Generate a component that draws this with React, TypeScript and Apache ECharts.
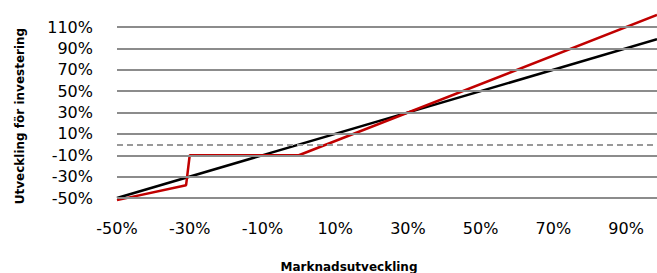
import React, { useEffect, useRef } from "react";
import * as echarts from "echarts";

const xTicks = [-50, -30, -10, 10, 30, 50, 70, 90];
const yTicks = [-50, -30, -10, 10, 30, 50, 70, 90, 110];
const marketLine: [number, number][] = [
  [-50, -50],
  [98.5, 98.5],
];
const investLine: [number, number][] = [
  [-50, -52],
  [-31, -38],
  [-30, -10],
  [0, -10],
  [98.5, 121.3],
];
const zeroLine = 0;
const xTitle = "Marknadsutveckling";
const yTitle = "Utveckling för investering";

export default function App() {
  const ref = useRef<HTMLDivElement>(null);
  useEffect(() => {
    if (!ref.current) return;
    const chart = echarts.init(ref.current, undefined, { renderer: "svg" });
    const font = "DejaVu Sans";
    chart.setOption({
      animation: false,
      grid: { left: 117, right: 0, top: 11, bottom: 75, containLabel: false },
      xAxis: {
        type: "value",
        min: -50,
        max: 98.5,
        interval: 20,
        axisLine: { show: false },
        axisTick: { show: false },
        splitLine: { show: false },
        axisLabel: {
          showMaxLabel: false,
          margin: 22,
          color: "#000",
          fontFamily: font,
          fontSize: 16,
          formatter: (v: number) => (xTicks.includes(v) ? `${v}%` : ""),
        },
      },
      yAxis: {
        type: "value",
        min: -50,
        max: 125,
        interval: 20,
        axisLine: { show: false },
        axisTick: { show: false },
        splitLine: { show: false },
        axisLabel: {
          showMaxLabel: false,
          margin: 24,
          color: "#000",
          fontFamily: font,
          fontSize: 16,
          formatter: (v: number) => (yTicks.includes(v) ? `${v}%` : ""),
        },
      },
      graphic: [
        {
          type: "text",
          x: 20,
          y: 116,
          rotation: Math.PI / 2,
          style: {
            text: yTitle,
            font: `bold 12px "${font}"`,
            fill: "#000",
            align: "center",
            verticalAlign: "middle",
          },
        },
        {
          type: "text",
          x: 349,
          y: 267,
          style: {
            text: xTitle,
            font: `bold 12px "${font}"`,
            fill: "#000",
            align: "center",
            verticalAlign: "middle",
          },
        },
      ],
      series: [
        {
          type: "line",
          data: [],
          silent: true,
          markLine: {
            silent: true,
            symbol: "none",
            label: { show: false },
            animation: false,
            data: [
              ...yTicks.map((v) => ({
                yAxis: v,
                lineStyle: { color: "#8c8c8c", width: 2, type: "solid" },
              })),
              {
                yAxis: zeroLine,
                lineStyle: { color: "#999", width: 2, type: [6, 4] },
              },
            ],
          },
          z: 1,
        },
        {
          type: "line",
          data: marketLine,
          showSymbol: false,
          symbol: "none",
          clip: false,
          lineStyle: { color: "#000", width: 2.5 },
          z: 3,
        },
        {
          type: "line",
          data: investLine,
          showSymbol: false,
          symbol: "none",
          clip: false,
          lineStyle: { color: "#c00000", width: 2.5 },
          z: 4,
        },
      ],
    });
    return () => chart.dispose();
  }, []);
  return <div ref={ref} style={{ width: 657, height: 273, position: "absolute", left: 0, top: 0 }} />;
}
